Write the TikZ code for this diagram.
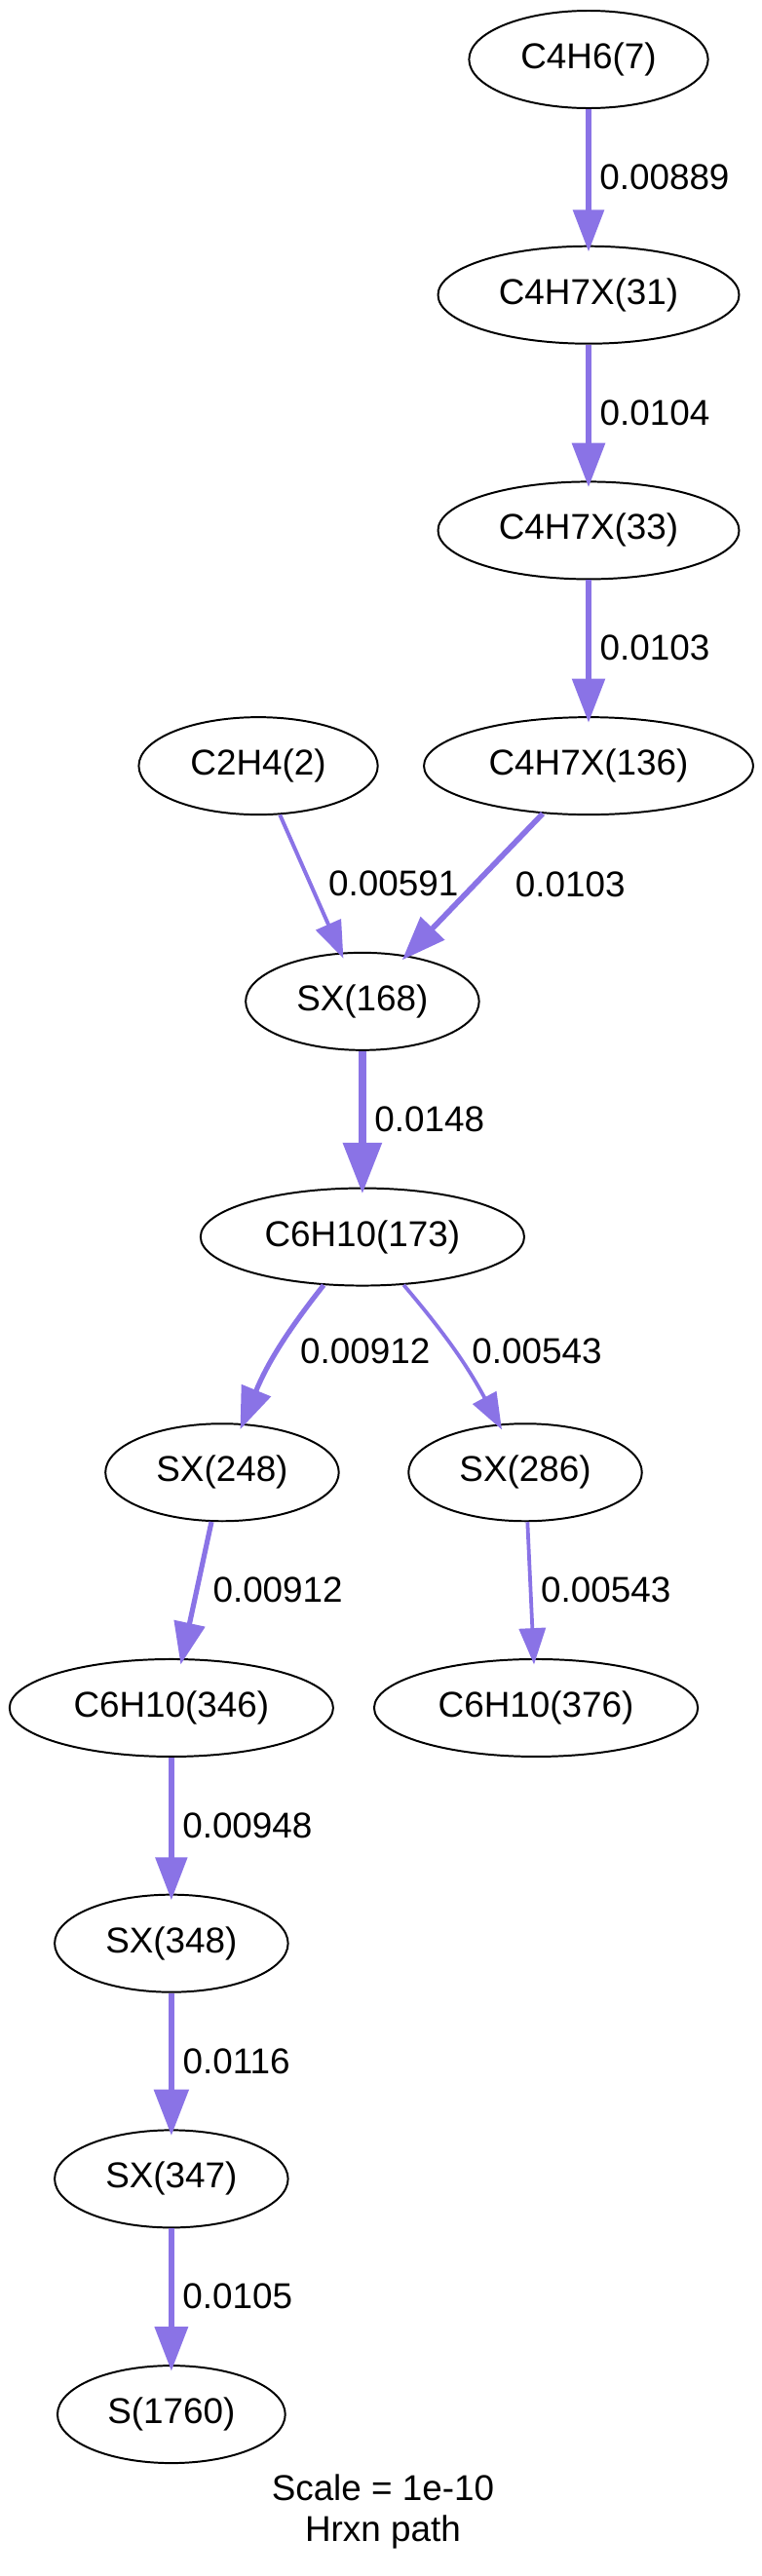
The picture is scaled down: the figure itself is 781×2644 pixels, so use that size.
\documentclass[tikz,border=0pt]{standalone}
\usepackage{fontspec}
\setmainfont{Liberation Sans}
\usetikzlibrary{shapes.geometric, arrows.meta, positioning}
\definecolor{fluxpurple}{RGB}{138,115,230}
\tikzset{
  species/.style = {draw, ellipse, line width=0.75pt, inner xsep=6.5pt, inner ysep=2pt, minimum height=38pt},
  flux/.style = {draw=fluxpurple, line width={0.65pt+144.4pt*#1}, shorten >=-2.5pt,
    -{Triangle[length=8.2pt 4.2, width=5.5pt 3.3]}},
}

\begin{document}
\begin{tikzpicture}[x=0.38pt, y=-0.38pt, node distance=91.85pt, every node/.style={font=\fontsize{14}{16}\selectfont, text=black}]
    \useasboundingbox (0,0) rectangle (781,2644);

    \node (n00) [species] at (604,61) {C4H6(7)};
    \node (n10) [species, below of=n00] {C4H7X(31)};
    \node (n20) [species, below of=n10] {C4H7X(33)};
    \node (n30) [species, below of=n20, xshift=-128.8pt] {C2H4(2)};
    \node (n31) [species, below of=n20] {C4H7X(136)};
    \node (n40) [species, below of=n31, xshift=-88.2pt] {SX(168)};
    \node (n50) [species, below of=n40] {C6H10(173)};
    \node (n60) [species, below of=n50, xshift=-54.7pt] {SX(248)};
    \node (n61) [species, below of=n50, xshift=63.5pt] {SX(286)};
    \node (n70) [species, below of=n60, xshift=-19.8pt] {C6H10(346)};
    \node (n71) [species, below of=n61, xshift=4.2pt] {C6H10(376)};
    \node (n80) [species, below of=n70] {SX(348)};
    \node (n90) [species, below of=n80] {SX(347)};
    \node (n100) [species, below of=n90] {S(1760)};
    \node (cap) [node distance=38pt, below of=n100, xshift=82.5pt, align=center] {Scale = 1e-10\\Hrxn path};

    \draw [flux=0.00889] (n00) -- node[right] {0.00889} (n10);
    \draw [flux=0.0104] (n10) -- node[right] {0.0104} (n20);
    \draw [flux=0.0103] (n20) -- node[right] {0.0103} (n31);
    \draw [flux=0.00591] (n30) -- node[right, xshift=3pt] {0.00591} (n40);
    \draw [flux=0.0103] (n31) -- node[right, xshift=11.5pt] {0.0103} (n40);
    \draw [flux=0.0148] (n40) -- node[right] {0.0148} (n50);
    \draw [flux=0.00912] (n50) to [bend right=8] node[right, xshift=4.6pt] {0.00912} (n60);
    \draw [flux=0.00543] (n50) to [bend left=6] node[right, xshift=2.4pt] {0.00543} (n61);
    \draw [flux=0.00912] (n60) -- node[right, xshift=2pt] {0.00912} (n70);
    \draw [flux=0.00543] (n61) -- node[right] {0.00543} (n71);
    \draw [flux=0.00948] (n70) -- node[right] {0.00948} (n80);
    \draw [flux=0.0116] (n80) -- node[right] {0.0116} (n90);
    \draw [flux=0.0105] (n90) -- node[right] {0.0105} (n100);
\end{tikzpicture}
\end{document}
